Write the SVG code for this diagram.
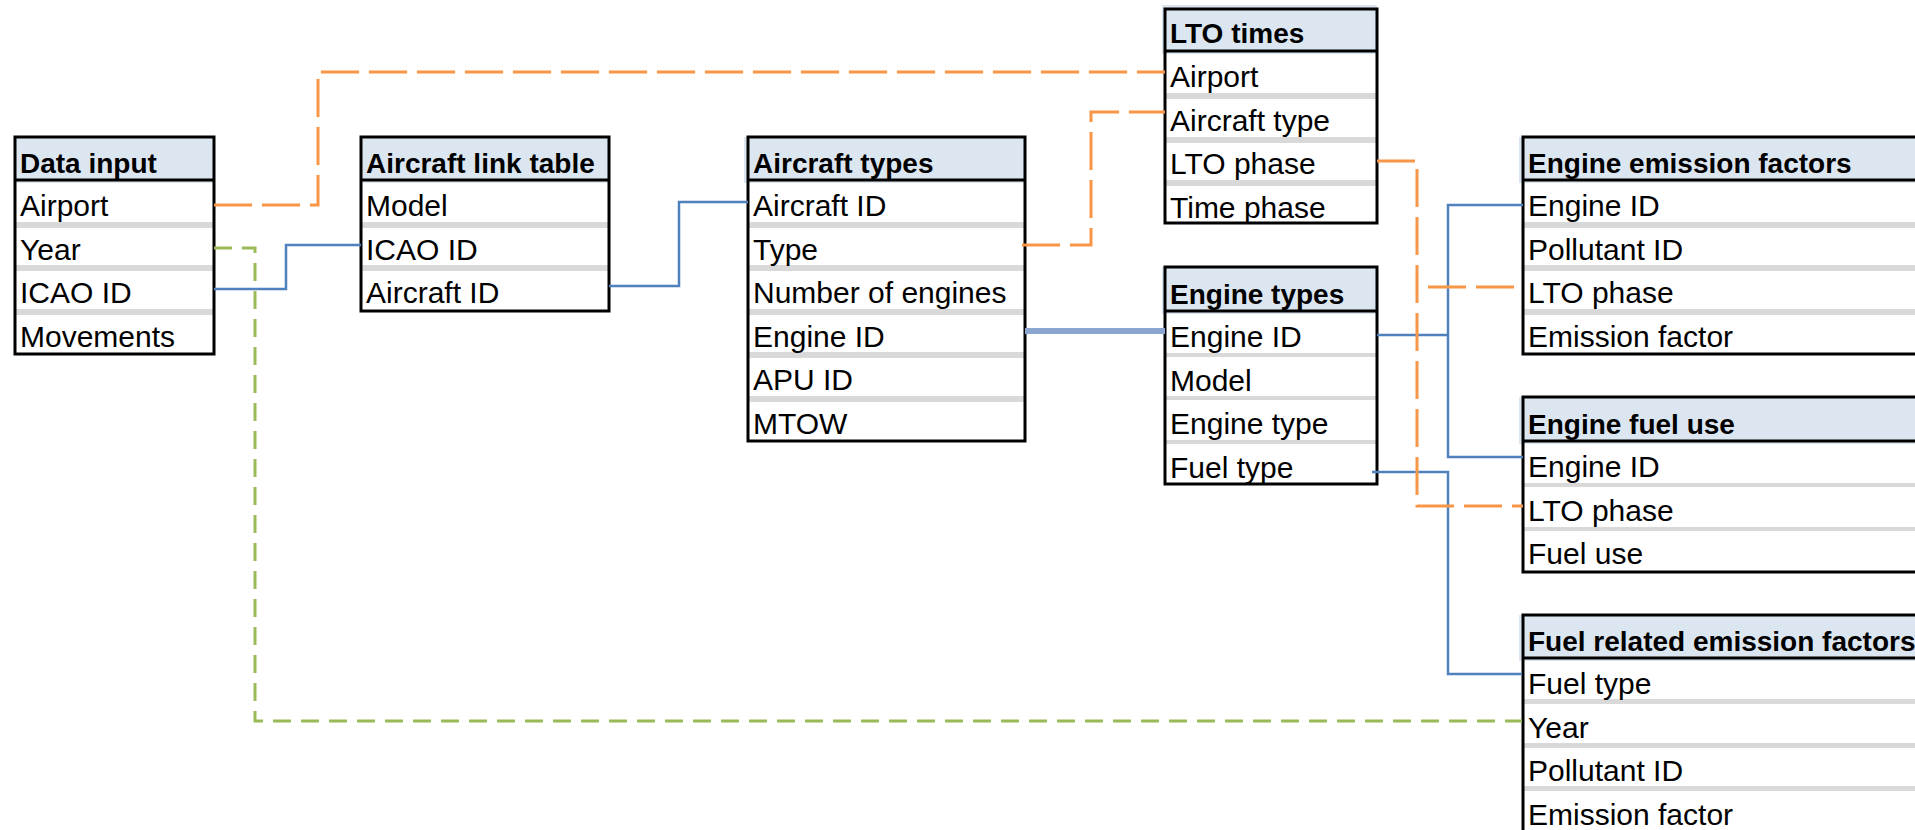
<svg xmlns="http://www.w3.org/2000/svg" width="1915" height="830" viewBox="0 0 1915 830">
  <style>
    .hdr { fill: #dce6f1; }
    .sep { fill: #d9d9d9; }
    .box { fill: none; stroke: #000; stroke-width: 3; }
    .rule { stroke: #000; stroke-width: 3; }
    .title { font-family: "Liberation Sans", Arial, sans-serif; font-weight: bold; font-size: 28px; fill: #000; }
    .field { font-family: "Liberation Sans", Arial, sans-serif; font-size: 30px; fill: #000; }
    .link { fill: none; stroke: #4f81bd; stroke-width: 2.5; }
    .link-wide { fill: none; stroke: #8ba6cf; stroke-width: 6; }
    .lto { fill: none; stroke: #f79646; stroke-width: 3; stroke-dasharray: 38 10; }
    .year { fill: none; stroke: #9bbb59; stroke-width: 3; stroke-dasharray: 18 10; }
  </style>

  <rect width="1915" height="830" fill="#fff"/>

  <!-- Data input -->
  <g id="data-input">
    <rect class="hdr" x="15" y="137" width="199" height="46"/>
    <rect class="sep" x="15" y="222" width="199" height="6"/>
    <rect class="sep" x="15" y="265" width="199" height="6"/>
    <rect class="sep" x="15" y="309" width="199" height="6"/>
    <rect class="box" x="15" y="137" width="199" height="217"/>
    <line class="rule" x1="15" y1="180" x2="214" y2="180"/>
    <text class="title" x="20" y="173">Data input</text>
    <text class="field" x="20" y="216">Airport</text>
    <text class="field" x="20" y="259.5">Year</text>
    <text class="field" x="20" y="303">ICAO ID</text>
    <text class="field" x="20" y="346.5">Movements</text>
  </g>

  <!-- Aircraft link table -->
  <g id="aircraft-link-table">
    <rect class="hdr" x="361" y="137" width="248" height="46"/>
    <rect class="sep" x="361" y="222" width="248" height="6"/>
    <rect class="sep" x="361" y="265" width="248" height="6"/>
    <rect class="box" x="361" y="137" width="248" height="174"/>
    <line class="rule" x1="361" y1="180" x2="609" y2="180"/>
    <text class="title" x="366" y="173">Aircraft link table</text>
    <text class="field" x="366" y="216">Model</text>
    <text class="field" x="366" y="259.5">ICAO ID</text>
    <text class="field" x="366" y="303">Aircraft ID</text>
  </g>

  <!-- Aircraft types -->
  <g id="aircraft-types">
    <rect class="hdr" x="744" y="137" width="281" height="46"/>
    <rect class="sep" x="748" y="222" width="277" height="6"/>
    <rect class="sep" x="748" y="265" width="277" height="6"/>
    <rect class="sep" x="748" y="309" width="277" height="6"/>
    <rect class="sep" x="748" y="352" width="277" height="6"/>
    <rect class="sep" x="748" y="396" width="277" height="6"/>
    <rect class="box" x="748" y="137" width="277" height="304"/>
    <line class="rule" x1="748" y1="180" x2="1025" y2="180"/>
    <text class="title" x="753" y="173">Aircraft types</text>
    <text class="field" x="753" y="216">Aircraft ID</text>
    <text class="field" x="753" y="259.5">Type</text>
    <text class="field" x="753" y="303">Number of engines</text>
    <text class="field" x="753" y="346.5">Engine ID</text>
    <text class="field" x="753" y="390">APU ID</text>
    <text class="field" x="753" y="433.5">MTOW</text>
  </g>

  <!-- LTO times -->
  <g id="lto-times">
    <rect class="hdr" x="1162" y="5" width="215" height="49"/>
    <rect class="sep" x="1165" y="93" width="212" height="6"/>
    <rect class="sep" x="1165" y="137" width="212" height="6"/>
    <rect class="sep" x="1165" y="180" width="212" height="6"/>
    <rect class="box" x="1165" y="9" width="212" height="214"/>
    <line class="rule" x1="1165" y1="51" x2="1377" y2="51"/>
    <text class="title" x="1170" y="43">LTO times</text>
    <text class="field" x="1170" y="87">Airport</text>
    <text class="field" x="1170" y="130.5">Aircraft type</text>
    <text class="field" x="1170" y="174">LTO phase</text>
    <text class="field" x="1170" y="217.5">Time phase</text>
  </g>

  <!-- Engine types -->
  <g id="engine-types">
    <rect class="hdr" x="1162" y="267" width="215" height="47"/>
    <rect class="sep" x="1165" y="353" width="212" height="4"/>
    <rect class="sep" x="1165" y="396" width="212" height="4"/>
    <rect class="sep" x="1165" y="440" width="212" height="4"/>
    <rect class="box" x="1165" y="267" width="212" height="217"/>
    <line class="rule" x1="1165" y1="311" x2="1377" y2="311"/>
    <text class="title" x="1170" y="304">Engine types</text>
    <text class="field" x="1170" y="347">Engine ID</text>
    <text class="field" x="1170" y="390.5">Model</text>
    <text class="field" x="1170" y="434">Engine type</text>
    <text class="field" x="1170" y="477.5">Fuel type</text>
  </g>

  <!-- Engine emission factors -->
  <g id="engine-emission-factors">
    <rect class="hdr" x="1519" y="137" width="410" height="46"/>
    <rect class="sep" x="1523" y="222" width="400" height="6"/>
    <rect class="sep" x="1523" y="265" width="400" height="6"/>
    <rect class="sep" x="1523" y="309" width="400" height="6"/>
    <rect class="box" x="1523" y="137" width="410" height="217"/>
    <line class="rule" x1="1523" y1="180" x2="1930" y2="180"/>
    <text class="title" x="1528" y="173">Engine emission factors</text>
    <text class="field" x="1528" y="216">Engine ID</text>
    <text class="field" x="1528" y="259.5">Pollutant ID</text>
    <text class="field" x="1528" y="303">LTO phase</text>
    <text class="field" x="1528" y="346.5">Emission factor</text>
  </g>

  <!-- Engine fuel use -->
  <g id="engine-fuel-use">
    <rect class="hdr" x="1519" y="397" width="410" height="47"/>
    <rect class="sep" x="1523" y="483" width="400" height="4"/>
    <rect class="sep" x="1523" y="527" width="400" height="4"/>
    <rect class="box" x="1523" y="397" width="410" height="175"/>
    <line class="rule" x1="1523" y1="441" x2="1930" y2="441"/>
    <text class="title" x="1528" y="434">Engine fuel use</text>
    <text class="field" x="1528" y="477">Engine ID</text>
    <text class="field" x="1528" y="520.5">LTO phase</text>
    <text class="field" x="1528" y="564">Fuel use</text>
  </g>

  <!-- Fuel related emission factors -->
  <g id="fuel-related-emission-factors">
    <rect class="hdr" x="1519" y="615" width="410" height="46"/>
    <rect class="sep" x="1523" y="699" width="400" height="5"/>
    <rect class="sep" x="1523" y="743" width="400" height="5"/>
    <rect class="sep" x="1523" y="786" width="400" height="5"/>
    <rect class="box" x="1523" y="615" width="410" height="220"/>
    <line class="rule" x1="1523" y1="658" x2="1930" y2="658"/>
    <text class="title" x="1528" y="651">Fuel related emission factors</text>
    <text class="field" x="1528" y="694">Fuel type</text>
    <text class="field" x="1528" y="737.5">Year</text>
    <text class="field" x="1528" y="781">Pollutant ID</text>
    <text class="field" x="1528" y="824.5">Emission factor</text>
  </g>

  <!-- Connectors -->
  <g id="connectors">
    <!-- key links -->
    <path class="link" d="M214,289 H286 V245 H361"/>
    <path class="link" d="M609,286 H679 V202 H748"/>
    <path class="link-wide" d="M1025,331 H1165"/>
    <path class="link" d="M1377,335 H1448"/>
    <path class="link" d="M1523,205 H1448 V457 H1523"/>
    <path class="link" d="M1372,472 H1448 V674 H1522"/>
    <!-- LTO links -->
    <path class="lto" d="M214,205 H318 V72 H1165"/>
    <path class="lto" d="M1022,245 H1091 V112 H1165"/>
    <path class="lto" d="M1377,161 H1417 V506 H1523"/>
    <path class="lto" d="M1428,287 H1523" stroke-dasharray="35 13"/>
    <!-- year link -->
    <path class="year" d="M214,248 H255 V721 H1522"/>
  </g>
</svg>
